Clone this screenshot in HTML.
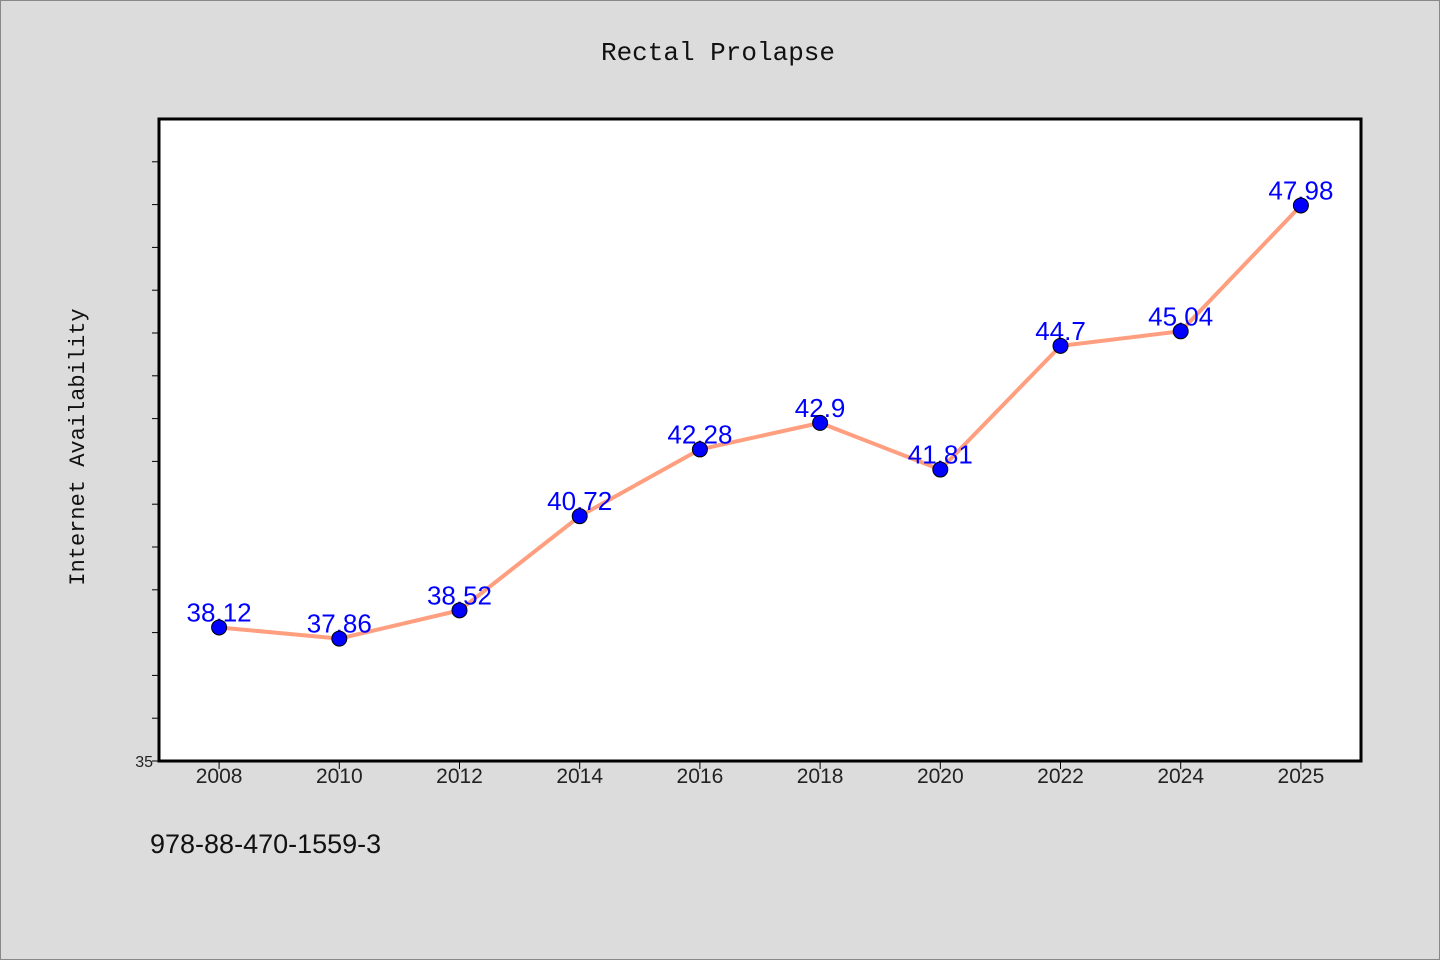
<!DOCTYPE html>
<html><head><meta charset="utf-8"><style>
body{margin:0;background:#dcdcdc;}
svg{display:block;}
</style></head><body>
<svg width="1440" height="960" xmlns="http://www.w3.org/2000/svg">
<rect x="0.5" y="0.5" width="1439" height="959" fill="#dcdcdc" stroke="#888"/>
<text x="718" y="60" text-anchor="middle" font-family="'WenQuanYi Zen Hei','Liberation Mono',monospace" font-size="26" fill="#111">Rectal Prolapse</text>
<rect x="159" y="119" width="1202" height="642" fill="#fff" stroke="#000" stroke-width="3"/>
<text transform="translate(84,447) rotate(-90)" text-anchor="middle" font-family="'WenQuanYi Zen Hei','Liberation Mono',monospace" font-size="22" fill="#111">Internet Availability</text>
<text x="150" y="853" font-family="'WenQuanYi Zen Hei','Liberation Sans',sans-serif" font-size="27" fill="#111">978-88-470-1559-3</text>
<g id="axes"></g>
<g id="series"></g>
</svg>
<script>
const categories=["2008","2010","2012","2014","2016","2018","2020","2022","2024","2025"];
const values=[38.12,37.86,38.52,40.72,42.28,42.9,41.81,44.7,45.04,47.98];
const labels=["38.12","37.86","38.52","40.72","42.28","42.9","41.81","44.7","45.04","47.98"];
const yMin=35,yMax=50;
const L=159,R=1361,T=119,B=761;
const NS="http://www.w3.org/2000/svg";
const bw=(R-L)/categories.length;
const xs=i=>L+bw*(i+0.5);
const ys=v=>B-(v-yMin)/(yMax-yMin)*(B-T);
const axes=document.getElementById('axes'),ser=document.getElementById('series');
function mk(tag,a,p){const e=document.createElementNS(NS,tag);for(const k in a)e.setAttribute(k,a[k]);p.appendChild(e);return e;}
for(let v=yMin;v<yMax;v++){
 const t=mk('line',{x1:152,x2:159,y1:ys(v),y2:ys(v),stroke:'#000','stroke-width':1},axes);
 
 
}
const y0=mk('text',{x:153,y:767,'text-anchor':'end','font-family':'Liberation Sans,sans-serif','font-size':16,fill:'#222'},axes);
y0.textContent='35';


categories.forEach((c,i)=>{
 const t=mk('line',{x1:xs(i),x2:xs(i),y1:B,y2:B+8,stroke:'#000','stroke-width':1},axes);
 
 
 const l=mk('text',{x:xs(i),y:783,'text-anchor':'middle','font-family':'Liberation Sans,sans-serif','font-size':21,fill:'#222'},axes);
 l.textContent=c;
 
 
});
const line=mk('polyline',{points:values.map((v,i)=>xs(i)+','+ys(v)).join(' '),fill:'none',stroke:'#ff9f7f','stroke-width':4},ser);


values.forEach((v,i)=>{
 const t=mk('text',{x:xs(i),y:ys(v)-6,'text-anchor':'middle','font-family':'Liberation Sans,sans-serif','font-size':26,fill:'#0000ff'},ser);
 t.textContent=labels[i];
 
 
});
values.forEach((v,i)=>{
 const p=mk('circle',{cx:xs(i),cy:ys(v),r:7.5,fill:'#0000ff',stroke:'#000','stroke-width':1},ser);
 
 
});
</script>
</body></html>
